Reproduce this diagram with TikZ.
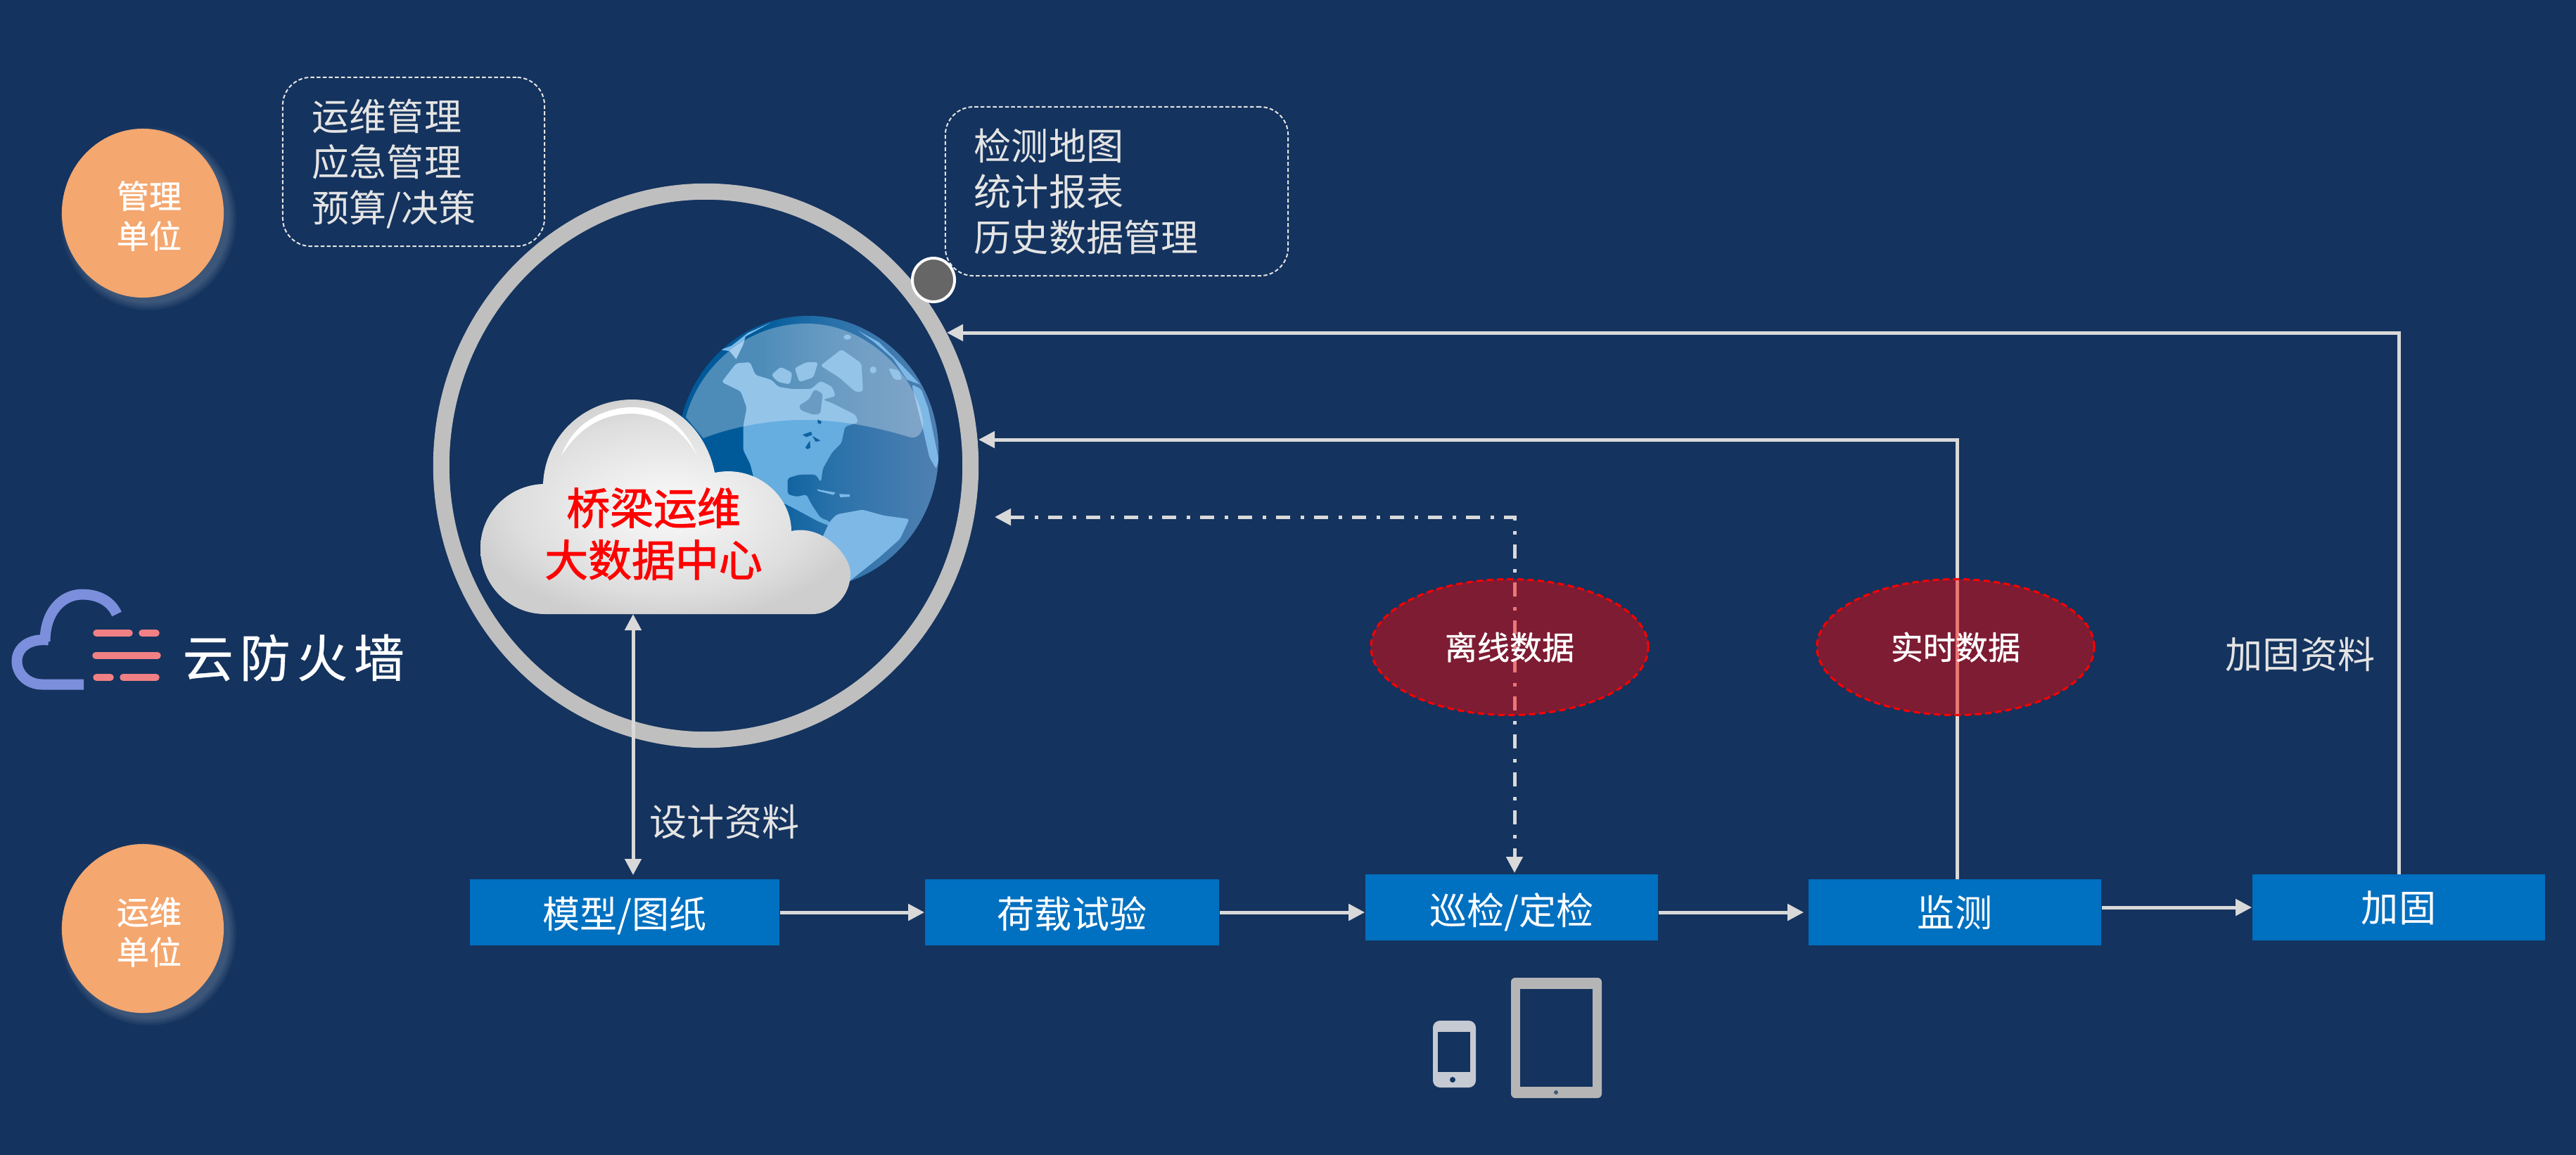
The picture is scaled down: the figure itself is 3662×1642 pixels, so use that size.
\documentclass[tikz,border=0pt]{standalone}
\usepackage{fontspec}
\setmainfont{Noto Sans CJK SC}
\usetikzlibrary{arrows.meta,shapes.geometric,calc}
\definecolor{bgblue}{HTML}{14335E}
\definecolor{ringgrey}{HTML}{BFBFBF}
\definecolor{linegrey}{HTML}{D9D9D9}
\definecolor{labelgrey}{HTML}{E4E4E4}
\definecolor{boxblue}{HTML}{0070C0}
\definecolor{orangec}{HTML}{F4A76F}
\definecolor{logoblue}{HTML}{7B8FDC}
\definecolor{logopink}{HTML}{F08084}
\definecolor{phonegrey}{HTML}{C5CAD3}
\definecolor{tabgrey}{HTML}{B5B5B5}
\definecolor{cloudA}{HTML}{F6F6F6}
\definecolor{cloudB}{HTML}{F2F2F2}
\definecolor{cloudC}{HTML}{DEDEDE}
\definecolor{cloudD}{HTML}{CECECE}
\definecolor{landc}{HTML}{66ADE0}
\definecolor{landd}{HTML}{7DB8E6}
\definecolor{globeL}{HTML}{005A9A}
\definecolor{globeM}{HTML}{2A72AA}
\definecolor{globeR}{HTML}{5080B2}
\definecolor{lakec}{HTML}{0F62A0}
\pgfdeclareradialshading{cloudshade}{\pgfpoint{0bp}{0bp}}{color(0bp)=(cloudA); color(6bp)=(cloudB); color(20bp)=(cloudC); color(27bp)=(cloudD); color(50bp)=(cloudD)}
\pgfdeclarehorizontalshading{globeshade}{100bp}{color(0bp)=(globeL); color(40bp)=(globeL); color(55bp)=(globeM); color(75bp)=(globeR); color(100bp)=(globeR)}
\tikzset{
  flowbox/.style={rectangle,fill=boxblue,text=white,inner sep=0pt,minimum height=.94cm,font=\fontsize{15.1}{18}\selectfont},
  dashbox/.style={rectangle,rounded corners=.4cm,draw=labelgrey,line width=.02cm,dash pattern=on .055cm off .032cm,text=labelgrey,align=left,inner xsep=.41cm,inner ysep=0pt,font=\fontsize{15.1}{18.5}\selectfont},
  boxtext/.style={text=labelgrey,align=left,inner sep=0pt,font=\fontsize{15.1}{18.5}\selectfont},
  unitdot/.style={ellipse,fill=orangec,inner sep=0pt,minimum width=2.3cm,minimum height=2.4cm},
  unittext/.style={text=white,inner sep=0pt,align=center,font=\fontsize{13.1}{16.2}\selectfont\addfontfeature{FakeBold=.8}},
  datacirc/.style={ellipse,draw=red,fill=red,fill opacity=.45,text opacity=1,text=white,line width=.03cm,dash pattern=on .09cm off .055cm,inner sep=0pt,minimum width=3.94cm,minimum height=1.93cm,font=\fontsize{13.1}{16}\selectfont\addfontfeature{FakeBold=.8}},
  flowline/.style={draw=linegrey,line width=.05cm,-{Triangle[length=.23cm,width=.23cm,fill=linegrey]}},
  duoline/.style={draw=linegrey,line width=.05cm,{Triangle[length=.23cm,width=.23cm,fill=linegrey]}-{Triangle[length=.23cm,width=.23cm,fill=linegrey]}},
  sidelabel/.style={text=labelgrey,inner sep=0pt,font=\fontsize{15.1}{18}\selectfont},
  land/.style={fill=landc,rounded corners=1pt},
}
\begin{document}
\begin{tikzpicture}[x=.01cm,y=-.01cm]
\fill[bgblue] (0,0) rectangle (3662,1642);
\useasboundingbox (0,0) rectangle (3662,1642);

% unit circles with their soft glow
\foreach \r in {0,2.5,5,7.5,10}{
  \fill[white,opacity=.04] (211,311) ellipse ({115+\r} and {120+\r});
  \fill[white,opacity=.04] (211,1328) ellipse ({115+\r} and {120+\r});
}
\node[unitdot] (mgmt) at (203,303) {};
\node[unitdot] (oper) at (203,1320) {};
\node[unittext] (mgmtlabel) at (212,307) {管理\\单位};
\node[unittext] (operlabel) at (212,1325) {运维\\单位};

% globe
\begin{scope}[shift={(950,440)},x=.003333cm,y=-.003333cm]
  \begin{scope}
    \clip (597,609) ellipse (558 and 582);
    \path[shading=globeshade] (597,609) ellipse (558 and 582);
    % North and Central America
    \path[land] (228,310) -- (290,230) -- (350,225) -- (372,280) -- (440,300) -- (470,330) -- (530,340) -- (610,340) -- (650,305) -- (700,330) -- (715,370) -- (660,385) -- (700,400) -- (800,450) -- (812,482) -- (755,500) -- (740,570) -- (700,610) -- (660,680) -- (652,738) -- (630,705) -- (560,705) -- (510,720) -- (510,790) -- (550,800) -- (590,790) -- (610,830) -- (650,890) -- (690,905) -- (690,925) -- (640,905) -- (510,835) -- (380,780) -- (350,660) -- (320,600) -- (320,500) -- (335,420) -- (310,350) -- cycle;
    % Hudson Bay
    \path[fill=globeM,rounded corners=1pt] (558,410) -- (600,385) -- (625,340) -- (660,360) -- (650,445) -- (620,450) -- (565,430) -- cycle;
    % Arctic islands
    \path[land] (440,280) -- (480,245) -- (530,270) -- (520,320) -- (470,310) -- cycle;
    \path[land] (540,250) -- (590,225) -- (640,225) -- (620,290) -- (560,310) -- cycle;
    % South America
    \path[fill=landd,rounded corners=1pt] (690,905) -- (720,875) -- (830,855) -- (920,880) -- (1030,895) -- (990,980) -- (900,1060) -- (800,1140) -- (700,1220) -- (600,1100) -- cycle;
    % Greenland, Iceland
    \path[land] (650,240) -- (740,170) -- (825,230) -- (832,350) -- (800,352) -- (730,290) -- cycle;
    \fill[landc] (875,258) ellipse (14 and 15);
    \fill[landc] (765,118) ellipse (16 and 11);
    % Europe and Africa rim
    \path[fill=landd,rounded corners=1pt] (1040,320) -- (1080,340) -- (1110,420) -- (1155,640) -- (1145,682) -- (1115,630) -- (1090,520) -- (1060,400) -- cycle;
    \path[land] (940,250) -- (985,260) -- (1000,300) -- (965,300) -- cycle;
    % Rim wisps
    \path[fill=landd] (225,172) -- (270,155) -- (340,100) -- (440,55) -- (330,115) -- (320,150) -- (290,212) -- (262,178) -- cycle;
    \path[fill=landd] (810,90) -- (900,140) -- (1000,240) -- (1075,320) -- (1020,300) -- (960,210) -- (880,140) -- cycle;
    % Caribbean
    \fill[landd] (635,768) -- (715,782) -- (705,792) -- (640,775) -- cycle;
    \fill[landd] (730,788) -- (775,790) -- (775,800) -- (735,802) -- cycle;
    % Glare
    \fill[white,opacity=.3] (75,460) .. controls (130,250) and (330,60) .. (590,60) .. controls (850,60) and (1060,280) .. (1088,480) .. controls (1092,530) and (1060,555) .. (1030,545) .. controls (850,490) and (700,470) .. (560,472) .. controls (400,475) and (250,510) .. (150,550) -- cycle;
    % Great Lakes
    \fill[lakec] (573,535) -- (610,522) -- (615,535) -- (590,545) -- cycle;
    \fill[lakec] (615,540) -- (650,560) -- (630,565) -- cycle;
    \fill[lakec] (585,590) -- (605,560) -- (607,590) -- (595,597) -- cycle;
    \fill[lakec] (638,470) -- (655,478) -- (650,490) -- (638,485) -- cycle;
  \end{scope}
\end{scope}

% cloud
\path[shading=cloudshade] (775,873) .. controls (722,873) and (683,830) .. (683,779) .. controls (683,730) and (722,690) .. (772,688) .. controls (775,620) and (830,568) .. (899,568) .. controls (960,568) and (1005,615) .. (1016,672) .. controls (1075,660) and (1125,705) .. (1125,755) .. controls (1170,745) and (1209,790) .. (1209,815) .. controls (1209,850) and (1180,873) .. (1155,873) -- cycle;
\fill[white] (798,648) .. controls (815,600) and (860,579) .. (899,579) .. controls (945,579) and (975,610) .. (991,648) .. controls (970,610) and (940,590) .. (899,588) .. controls (860,588) and (825,605) .. (798,648) -- cycle;
\node[inner sep=0pt,text=red,align=center,font=\fontsize{17.6}{21}\selectfont\addfontfeature{FakeBold=1.6}] (center) at (929,759) {桥梁运维\\大数据中心};

% ring and marker
\node[ellipse,draw=ringgrey,line width=.23cm,inner sep=0pt,minimum width=7.52cm,minimum height=7.79cm] (ring) at (1003.5,662) {};
\coordinate (ringA) at (1346,473);
\coordinate (ringB) at (1391,625);
\coordinate (ringC) at (1414,735);

% dashed boxes
\node[dashbox,minimum width=3.72cm,minimum height=2.4cm] (mgmtbox) at (588,230) {};
\node[boxtext,anchor=west] (mgmttext) at (443,233) {运维管理\\应急管理\\预算/决策};
\node[dashbox,text width=4.05cm,minimum width=4.87cm,minimum height=2.4cm] (statbox) at (1587.5,272) {检测地图\\统计报表\\历史数据管理};
\node[ellipse,draw=white,fill=black!60,line width=.04cm,inner sep=0pt,minimum width=.6cm,minimum height=.62cm] (dot) at (1327,398) {};

% process boxes
\node[flowbox,minimum width=4.4cm,text height=.69cm,text depth=.25cm] (model) at (888,1297) {模型/图纸};
\node[flowbox,minimum width=4.18cm,text height=.69cm,text depth=.25cm] (load) at (1524,1297) {荷载试验};
\node[flowbox,minimum width=4.16cm,minimum height=.93cm,text height=.705cm,text depth=.225cm] (patrol) at (2149,1290) {巡检/定检};
\node[flowbox,minimum width=4.16cm,text height=.67cm,text depth=.27cm] (monitor) at (2779,1297) {监测};
\node[flowbox,minimum width=4.16cm,minimum height=.93cm,text height=.665cm,text depth=.265cm] (reinf) at (3410,1290) {加固};

\coordinate (cloudfoot) at (900,873);
\coordinate (modeltop) at (900,1244);
\coordinate (patroltop) at (2153,1241);
\coordinate (monitortop) at (2782,1250);

% connectors
\draw[flowline] (model.east) -- (load.west);
\draw[flowline] (load.east) -- (load.east -| patrol.west);
\draw[flowline,shorten >=.06cm] (patrol.east |- monitor.west) -- (monitor.west);
\draw[flowline] (monitor.east |- reinf.east) -- (reinf.west);
\draw[duoline] (cloudfoot) -- (modeltop);
\draw[flowline] (reinf.north) |- (ringA);
\draw[flowline] (monitortop) |- (ringB);
\draw[duoline,dash pattern=on .2cm off .15cm on .05cm off .14cm] (ringC) -| (patroltop);

% data ellipses
\node[datacirc] (offline) at (2146,920) {离线数据};
\node[datacirc] (realtime) at (2780,920) {实时数据};

% side labels
\node[sidelabel] (design) at (1030,1168) {设计资料};
\node[sidelabel] (reinfdoc) at (3270,930) {加固资料};

% logo
\draw[logoblue,line width=.15cm] (119,973) -- (60,973) .. controls (38,973) and (24,957) .. (24,940) .. controls (24,922) and (40,907) .. (69,910);
\draw[logoblue,line width=.15cm] (64,912) .. controls (64,870) and (88,845) .. (117,845) .. controls (140,845) and (158,855) .. (166,873);
\draw[logopink,line width=.095cm,line cap=round] (137,900) -- (184,900) (202,900) -- (222,900) (136,932) -- (224,932) (137,963) -- (157,963) (175,963) -- (222,963);
\node[anchor=west,inner sep=0pt,text=white,font=\fontsize{20.5}{24}\selectfont\addfontfeature{LetterSpace=12.5,FakeBold=.5}] (logotext) at (259,935) {云防火墙};

% devices
\fill[phonegrey,rounded corners=.1cm] (2037,1451) rectangle (2098,1546);
\fill[bgblue] (2044,1467) rectangle (2090,1524);
\fill[bgblue] (2065,1535) circle (4);
\fill[tabgrey,rounded corners=.06cm] (2148,1390) rectangle (2277,1561);
\fill[bgblue] (2161,1406) rectangle (2264,1545);
\fill[bgblue!70!tabgrey] (2212,1553) circle (3);
\end{tikzpicture}
\end{document}
